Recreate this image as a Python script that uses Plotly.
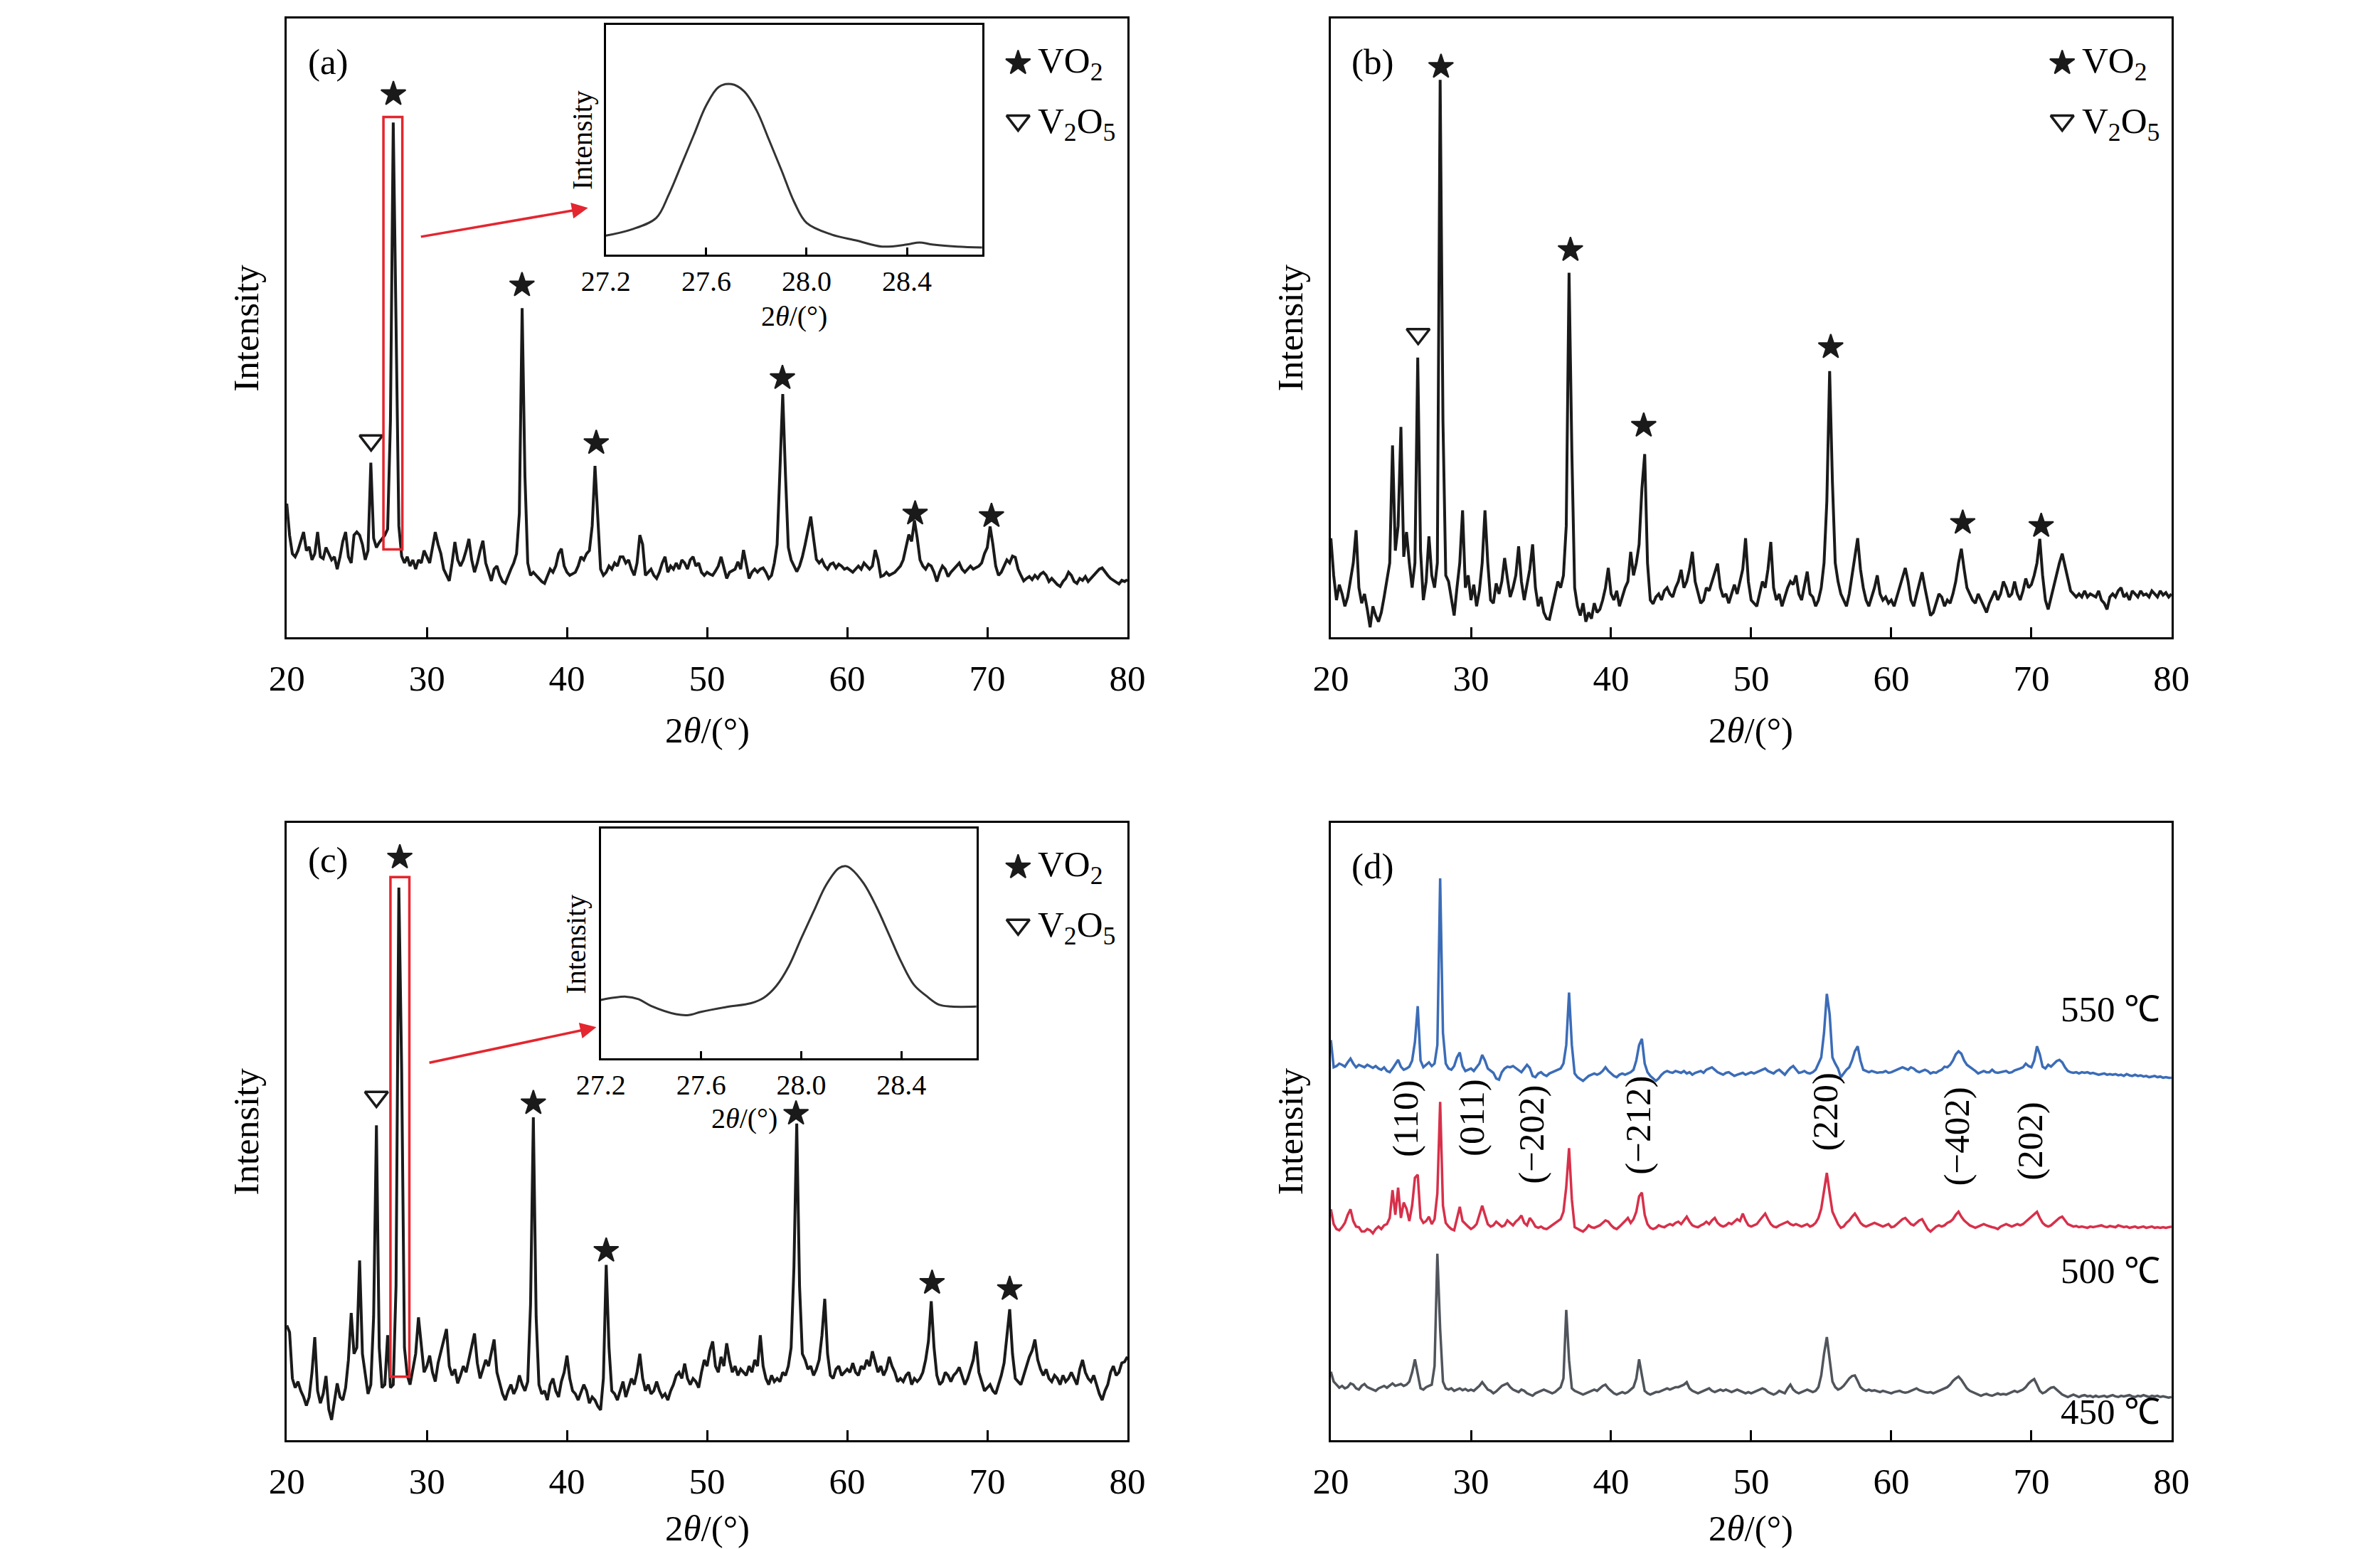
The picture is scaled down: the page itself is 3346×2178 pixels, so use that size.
import numpy as np
import plotly.graph_objects as go

SERIF = "Liberation Serif, Times New Roman, serif"

# 2theta grid, 0.2 deg steps from 20 to 80
two_theta = np.round(np.linspace(20, 80, 301), 1)

# (a) intensities (arb. units, 0 = axis bottom, 100 = axis top)
xrd_a = [
    21.6, 16.5, 13.5, 13.0, 14.0, 15.5, 17.0, 14.0, 14.6, 12.5, 13.5, 17.0, 13.0, 12.7, 14.5, 13.5, 12.5, 13.0, 11.0, 13.0, 15.5, 17.0, 13.0, 12.0, 16.5,
    17.0, 16.5, 15.0, 12.5, 14.0, 28.2, 16.0, 14.5, 15.3, 16.0, 16.5, 17.5, 35.0, 83.2, 50.0, 18.0, 13.1, 12.0, 13.0, 11.5, 12.5, 11.0, 12.5, 12.0, 14.0,
    13.0, 12.0, 14.5, 17.0, 15.0, 13.5, 11.0, 10.0, 9.1, 12.0, 15.4, 12.5, 11.5, 12.5, 14.0, 15.9, 12.5, 10.5, 12.0, 14.0, 15.6, 12.0, 10.5, 9.1, 11.0,
    11.5, 10.0, 9.0, 8.7, 10.0, 11.0, 12.0, 13.5, 20.0, 53.2, 26.0, 12.0, 10.0, 10.5, 10.0, 9.5, 9.0, 8.7, 10.0, 11.0, 10.5, 11.5, 13.5, 14.3, 11.5,
    10.5, 10.0, 10.3, 10.5, 11.5, 13.0, 12.5, 13.5, 14.0, 18.0, 27.7, 20.0, 11.0, 10.0, 10.5, 11.5, 11.0, 12.0, 11.5, 13.0, 13.0, 12.0, 12.5, 11.0, 10.0,
    12.0, 16.5, 15.0, 10.0, 10.5, 11.0, 10.0, 9.5, 10.5, 12.0, 13.0, 10.5, 11.5, 11.0, 12.0, 11.0, 12.5, 12.0, 11.0, 12.5, 13.0, 11.5, 12.0, 10.5, 10.0,
    10.5, 10.2, 10.0, 10.7, 11.5, 13.0, 11.0, 9.5, 10.5, 10.8, 11.0, 12.2, 11.0, 14.1, 11.5, 9.5, 10.5, 11.0, 10.5, 11.0, 11.2, 10.5, 9.5, 10.0, 12.0,
    15.0, 27.0, 39.3, 26.0, 14.5, 12.5, 11.5, 10.6, 11.5, 13.0, 15.0, 17.5, 19.5, 16.0, 12.6, 12.0, 12.5, 11.5, 11.0, 11.8, 12.0, 11.2, 11.8, 11.5, 11.0,
    11.2, 10.8, 10.5, 11.0, 11.5, 11.0, 12.0, 11.5, 11.0, 11.5, 14.1, 12.5, 9.8, 10.0, 10.5, 10.0, 10.3, 10.5, 11.0, 11.5, 12.5, 14.5, 16.6, 15.5, 18.9,
    16.0, 12.5, 11.5, 11.0, 11.8, 11.5, 10.5, 9.0, 10.5, 11.5, 11.0, 9.8, 10.5, 11.0, 11.5, 12.0, 11.0, 10.5, 11.0, 11.5, 11.0, 11.2, 11.5, 12.0, 13.5,
    14.5, 17.9, 15.0, 11.5, 10.0, 10.5, 11.5, 12.5, 12.0, 13.1, 12.9, 11.0, 10.0, 9.1, 9.5, 9.8, 9.3, 10.0, 9.5, 10.2, 10.5, 10.0, 9.0, 9.5, 9.0,
    8.5, 8.2, 9.0, 9.5, 10.5, 10.0, 9.0, 8.7, 9.5, 9.2, 9.8, 9.0, 9.5, 10.0, 10.5, 11.0, 11.2, 10.5, 10.0, 9.5, 9.2, 9.0, 8.6, 9.2, 9.0, 9.3,
]

# (b)
xrd_b = [
    16.0, 10.0, 6.0, 8.5, 7.0, 5.0, 6.5, 9.0, 12.0, 17.3, 8.0, 5.5, 7.0, 4.5, 1.6, 5.0, 3.5, 2.5, 4.0, 6.5, 9.0, 12.0, 31.0, 14.0, 18.0,
    34.0, 13.0, 17.0, 12.0, 8.0, 12.0, 45.2, 14.0, 6.0, 9.0, 16.3, 10.0, 8.0, 12.0, 90.1, 35.0, 10.0, 9.0, 6.0, 3.5, 8.0, 12.0, 20.5, 8.0, 10.0,
    6.0, 8.5, 5.0, 7.5, 12.0, 20.5, 12.0, 6.0, 5.5, 8.7, 7.0, 9.0, 12.8, 9.5, 6.5, 8.0, 10.0, 14.7, 9.0, 6.0, 8.5, 11.0, 15.0, 8.0, 5.0,
    6.5, 4.0, 3.0, 2.9, 5.0, 7.0, 9.0, 8.0, 10.0, 18.0, 58.9, 30.0, 8.0, 5.0, 3.5, 5.5, 2.5, 4.0, 3.0, 5.5, 4.0, 4.5, 6.0, 8.0, 11.2,
    7.0, 6.0, 7.5, 5.0, 6.5, 8.0, 9.0, 13.8, 10.0, 12.0, 15.0, 24.0, 29.6, 12.0, 6.0, 5.4, 6.5, 7.0, 6.0, 7.5, 8.0, 7.0, 6.5, 8.0, 9.0,
    10.9, 8.0, 9.0, 11.0, 13.8, 9.0, 7.0, 5.5, 6.0, 8.0, 7.5, 9.0, 10.5, 11.9, 8.0, 6.5, 7.0, 5.5, 7.0, 8.5, 7.0, 9.0, 11.0, 16.0, 9.0,
    6.0, 5.5, 5.0, 7.0, 9.0, 8.0, 11.0, 15.4, 8.0, 6.0, 7.0, 5.0, 6.5, 8.0, 9.0, 8.5, 10.0, 7.0, 6.0, 8.5, 10.6, 7.0, 6.5, 5.0, 6.0,
    8.0, 12.0, 22.0, 43.0, 25.0, 12.0, 9.0, 7.0, 6.0, 5.0, 7.0, 10.0, 13.5, 16.0, 11.0, 8.0, 6.0, 5.0, 6.5, 8.0, 10.0, 7.0, 6.0, 6.5, 5.5,
    6.0, 5.0, 6.5, 8.0, 9.5, 11.2, 9.0, 6.0, 5.0, 7.0, 9.0, 10.5, 8.0, 5.5, 3.5, 4.0, 5.5, 7.0, 6.5, 5.0, 6.0, 5.5, 7.0, 9.0, 12.0,
    14.3, 11.0, 8.0, 7.0, 6.0, 5.5, 7.0, 6.0, 5.0, 4.0, 5.5, 6.5, 7.5, 6.0, 7.0, 9.0, 8.0, 6.5, 7.0, 9.0, 7.0, 6.0, 7.5, 9.5, 8.0,
    8.5, 10.0, 12.0, 15.9, 10.0, 6.0, 4.5, 6.5, 8.0, 10.0, 12.0, 13.5, 11.5, 9.0, 7.5, 7.0, 6.5, 7.0, 6.5, 7.5, 6.5, 7.0, 6.8, 6.5, 7.5,
    6.0, 5.5, 4.5, 6.5, 7.0, 6.5, 7.5, 8.0, 6.5, 7.0, 6.0, 7.5, 7.0, 6.5, 7.5, 6.8, 7.0, 6.5, 7.5, 7.0, 6.5, 7.5, 6.8, 7.2, 6.5, 7.0,
]

# (c)
xrd_c = [
    18.6, 17.5, 10.0, 8.5, 9.5, 8.0, 7.0, 5.6, 7.0, 11.0, 16.7, 8.0, 6.0, 7.5, 10.4, 5.0, 3.3, 6.0, 9.2, 7.0, 6.5, 8.5, 13.0, 20.6, 14.0,
    15.0, 29.1, 14.0, 10.5, 7.5, 9.0, 20.0, 51.0, 15.0, 8.5, 9.0, 17.0, 8.5, 9.0, 25.0, 89.5, 60.0, 15.0, 10.5, 9.0, 11.8, 14.0, 19.9, 15.0, 11.0,
    12.0, 13.7, 11.0, 9.5, 12.5, 14.5, 16.0, 18.0, 12.0, 10.5, 11.5, 9.2, 10.5, 12.0, 11.0, 13.0, 15.0, 17.3, 12.5, 10.0, 11.5, 13.0, 12.0, 14.0, 16.3,
    11.0, 9.0, 7.5, 6.5, 8.0, 9.0, 7.5, 8.5, 10.5, 9.0, 8.0, 9.5, 22.0, 52.3, 20.0, 9.0, 7.5, 8.0, 6.5, 9.0, 10.0, 8.0, 7.0, 9.5, 11.0,
    13.7, 10.0, 8.0, 7.5, 6.5, 7.8, 9.0, 8.0, 6.0, 7.0, 6.5, 5.5, 4.9, 10.0, 28.4, 15.0, 8.0, 7.5, 6.5, 8.0, 9.5, 7.0, 8.5, 10.0, 9.0,
    11.0, 14.0, 10.0, 8.0, 9.0, 7.5, 8.0, 9.5, 8.0, 7.0, 7.5, 6.5, 8.0, 9.0, 10.5, 11.0, 10.0, 12.4, 10.0, 9.0, 10.0, 9.5, 8.5, 11.0, 13.0,
    12.0, 14.5, 16.0, 12.0, 11.0, 13.5, 12.0, 15.7, 13.0, 11.0, 12.0, 10.5, 11.5, 11.0, 10.5, 12.0, 11.0, 13.0, 12.0, 17.0, 12.0, 10.0, 9.0, 10.5, 9.5,
    10.0, 9.5, 11.0, 10.5, 12.0, 15.0, 28.0, 51.3, 25.0, 14.0, 13.0, 11.5, 12.0, 10.5, 11.5, 13.0, 17.0, 22.9, 14.0, 10.5, 10.0, 11.5, 12.0, 10.5, 11.0,
    11.5, 11.0, 12.5, 11.0, 10.5, 12.0, 11.5, 13.0, 12.0, 14.4, 12.5, 11.0, 12.0, 10.5, 11.5, 13.5, 12.0, 11.0, 9.5, 10.0, 9.5, 10.5, 11.0, 9.0, 10.0,
    9.5, 10.0, 11.0, 13.0, 16.0, 22.5, 15.0, 10.5, 9.0, 9.5, 11.0, 10.5, 9.5, 10.5, 11.0, 11.8, 10.5, 9.0, 10.0, 11.5, 13.0, 16.0, 11.0, 9.5, 8.0,
    8.5, 9.0, 8.0, 7.5, 9.0, 10.5, 12.5, 17.0, 21.2, 14.0, 10.0, 9.5, 9.0, 10.5, 12.0, 13.5, 14.5, 16.3, 13.0, 11.5, 10.5, 11.5, 10.0, 9.5, 10.5,
    10.0, 9.0, 10.5, 9.5, 10.0, 11.0, 10.0, 9.0, 11.5, 13.0, 11.0, 10.0, 9.5, 10.5, 9.0, 7.5, 6.5, 8.0, 9.0, 11.0, 12.0, 10.5, 11.0, 12.5, 12.7, 13.5,
]

# (d) stacked patterns, offsets already in the values
xrd_550 = [
    64.8, 60.4, 60.6, 61.0, 60.8, 60.5, 61.2, 61.8, 61.0, 60.4, 60.8, 60.6, 60.4, 60.8, 60.5, 60.3, 60.6, 60.2, 60.0, 60.4, 59.8, 59.6, 60.2, 61.0, 61.6,
    60.5, 60.0, 60.2, 60.5, 61.5, 64.5, 70.3, 61.5, 60.4, 60.8, 61.2, 60.6, 61.0, 64.0, 91.0, 66.0, 61.0, 60.2, 60.0, 60.6, 62.0, 62.8, 60.6, 59.8, 60.0,
    60.2, 59.8, 60.4, 61.0, 62.4, 61.5, 60.2, 59.8, 59.5, 58.6, 58.4, 59.6, 60.2, 60.5, 60.4, 60.6, 60.3, 60.0, 59.6, 60.2, 60.8, 60.3, 59.0, 58.8, 59.4,
    59.6, 59.2, 59.0, 59.4, 59.6, 59.8, 60.0, 60.2, 61.0, 64.0, 72.5, 64.0, 59.4, 58.8, 58.5, 58.2, 58.6, 59.0, 59.2, 59.4, 59.2, 59.4, 59.8, 60.4, 59.8,
    59.4, 59.0, 58.8, 59.2, 59.4, 59.2, 59.4, 59.6, 60.0, 61.5, 64.0, 65.0, 61.0, 59.6, 59.0, 58.6, 58.2, 58.6, 59.2, 59.6, 59.8, 59.6, 59.5, 59.8, 59.6,
    59.5, 59.8, 59.4, 59.6, 59.2, 59.5, 59.6, 59.8, 59.5, 60.0, 60.2, 60.4, 60.0, 59.6, 59.4, 59.2, 59.5, 59.6, 59.3, 59.0, 59.2, 59.4, 59.5, 59.2, 59.4,
    59.6, 59.4, 59.6, 59.8, 60.0, 60.2, 59.8, 59.6, 59.4, 59.8, 60.0, 59.6, 59.2, 59.8, 60.3, 60.6, 60.0, 59.5, 59.6, 59.8, 59.5, 59.4, 59.6, 60.0, 61.0,
    62.0, 66.0, 72.3, 69.0, 62.0, 61.0, 60.2, 58.8, 59.4, 60.0, 60.4, 61.5, 63.0, 63.8, 61.5, 60.0, 59.8, 59.6, 59.8, 59.6, 59.5, 59.6, 59.6, 59.8, 59.5,
    59.6, 59.8, 60.0, 60.2, 60.4, 60.2, 60.0, 60.4, 60.2, 59.8, 59.6, 59.8, 60.0, 59.8, 59.4, 59.6, 59.5, 59.8, 60.0, 60.5, 60.4, 60.8, 61.5, 62.5, 63.0,
    62.6, 61.5, 60.8, 60.5, 60.2, 59.8, 59.4, 59.6, 59.8, 59.6, 59.6, 60.0, 59.6, 59.5, 59.6, 59.6, 59.8, 59.5, 59.6, 59.9, 60.0, 60.2, 60.4, 61.0, 60.6,
    60.4, 61.5, 63.8, 62.5, 60.5, 60.2, 60.8, 60.5, 61.0, 61.4, 61.6, 61.2, 60.4, 59.8, 59.6, 59.5, 59.6, 59.4, 59.6, 59.5, 59.6, 59.4, 59.5, 59.4, 59.2,
    59.3, 59.4, 59.2, 59.3, 59.2, 59.3, 59.1, 59.2, 59.0, 59.3, 59.1, 59.0, 59.2, 59.0, 59.1, 58.9, 59.0, 58.8, 58.9, 59.0, 58.8, 58.9, 58.7, 58.8, 58.7, 58.7,
]

xrd_500 = [
    37.4, 35.0, 34.2, 34.0, 34.5, 35.2, 36.5, 37.4, 35.5, 34.6, 34.5, 33.8, 33.8, 34.2, 34.0, 33.5, 34.2, 34.6, 34.2, 34.8, 35.0, 36.0, 40.5, 36.5, 40.9,
    36.0, 38.5, 37.5, 35.5, 38.0, 42.5, 43.0, 36.0, 35.2, 35.5, 36.2, 35.0, 35.8, 40.0, 54.8, 38.0, 35.2, 34.6, 34.2, 34.0, 35.8, 37.8, 35.5, 35.0, 34.6,
    34.2, 34.5, 35.0, 36.5, 38.0, 36.5, 35.0, 34.6, 34.8, 35.4, 35.0, 34.6, 34.8, 35.6, 35.2, 34.8, 35.4, 35.8, 36.4, 35.2, 34.8, 36.0, 35.4, 34.6, 34.4,
    34.6, 34.3, 34.2, 34.5, 34.8, 35.2, 35.5, 35.8, 37.0, 41.0, 47.3, 39.0, 34.5, 34.2, 34.0, 33.8, 34.2, 34.8, 34.5, 34.4, 34.6, 34.8, 35.2, 35.6, 35.4,
    34.8, 34.4, 34.2, 34.6, 35.0, 35.5, 36.0, 35.2, 35.8, 37.0, 39.5, 40.1, 36.5, 35.0, 34.4, 34.2, 34.4, 34.8, 34.6, 34.5, 34.8, 35.0, 34.8, 35.2, 35.4,
    35.0, 35.6, 36.2, 35.4, 34.8, 34.6, 34.5, 34.8, 35.0, 35.4, 35.0, 35.6, 36.0, 35.2, 34.8, 34.6, 34.8, 35.2, 35.0, 35.4, 35.8, 35.5, 36.7, 35.6, 34.8,
    34.6, 34.8, 35.0, 35.6, 36.2, 36.7, 35.8, 35.0, 34.6, 34.5, 34.8, 35.0, 35.2, 35.4, 35.0, 34.8, 35.0, 34.8, 34.6, 34.8, 35.0, 34.6, 34.8, 35.2, 36.0,
    37.5, 40.5, 43.3, 40.0, 37.0, 36.0, 35.0, 34.4, 34.6, 35.2, 35.6, 36.2, 36.7, 36.0, 35.2, 34.8, 34.6, 34.8, 35.0, 35.2, 35.0, 34.8, 34.6, 34.8, 35.0,
    34.5, 34.6, 35.0, 35.4, 35.8, 36.0, 35.5, 35.0, 34.8, 35.2, 35.6, 35.8, 35.0, 34.2, 33.8, 34.2, 34.6, 34.8, 34.6, 34.8, 35.2, 35.4, 35.8, 36.5, 37.0,
    36.2, 35.6, 35.2, 34.8, 34.6, 34.4, 34.6, 34.8, 35.0, 34.8, 34.6, 34.5, 34.4, 34.2, 34.6, 34.8, 35.0, 34.8, 34.6, 34.8, 35.0, 34.8, 35.0, 35.4, 35.8,
    36.2, 36.6, 37.0, 36.0, 35.2, 34.8, 34.6, 34.8, 35.2, 35.6, 36.0, 36.2, 35.6, 35.0, 34.8, 34.6, 34.7, 34.5, 34.6, 34.5, 34.4, 34.6, 34.5, 34.6, 34.7,
    34.8, 34.6, 34.5, 34.7, 34.6, 34.5, 34.8, 34.7, 34.5, 34.6, 34.4, 34.5, 34.6, 34.4, 34.5, 34.6, 34.4, 34.5, 34.6, 34.4, 34.5, 34.4, 34.5, 34.4, 34.5, 34.6,
]

xrd_450 = [
    11.1, 9.5, 9.0, 8.5, 8.8, 8.4, 8.6, 9.2, 9.0, 8.4, 8.2, 8.8, 9.1, 8.6, 8.4, 8.2, 8.0, 8.4, 8.6, 8.8, 8.5, 8.9, 9.2, 8.8, 9.0,
    9.1, 8.8, 9.0, 9.5, 11.0, 13.1, 10.5, 8.4, 8.2, 8.6, 8.8, 9.0, 12.0, 30.2, 18.0, 9.5, 8.4, 8.2, 8.4, 8.0, 8.2, 8.4, 8.1, 8.3, 8.0,
    8.2, 8.0, 8.4, 8.8, 9.4, 8.8, 8.2, 8.0, 7.6, 7.9, 8.4, 8.8, 9.0, 9.2, 8.6, 8.2, 8.0, 7.8, 8.2, 8.0, 7.6, 7.4, 7.2, 7.6, 7.8,
    8.0, 8.2, 8.0, 7.8, 7.6, 7.8, 8.2, 8.6, 10.0, 21.1, 13.0, 8.4, 8.0, 7.8, 7.6, 7.4, 7.6, 7.8, 8.0, 8.2, 8.0, 8.4, 8.8, 9.0, 8.4,
    8.0, 7.6, 7.4, 7.6, 7.8, 7.6, 7.8, 8.2, 8.6, 10.0, 13.1, 10.5, 8.0, 7.6, 7.4, 7.6, 7.8, 7.8, 8.0, 8.2, 8.4, 8.2, 8.4, 8.6, 8.6,
    8.8, 9.0, 9.4, 8.4, 8.0, 7.8, 7.6, 7.8, 8.0, 8.2, 8.4, 8.0, 7.8, 8.0, 8.2, 8.0, 8.2, 8.0, 7.8, 8.0, 8.2, 8.0, 7.8, 7.6, 7.8,
    7.6, 7.8, 8.0, 8.2, 8.4, 8.2, 7.8, 7.6, 7.4, 7.6, 8.0, 7.8, 7.6, 8.4, 9.0, 8.2, 7.8, 7.6, 7.8, 8.0, 8.2, 8.0, 7.8, 8.0, 8.6,
    10.5, 14.0, 16.7, 13.0, 9.5, 8.6, 8.2, 8.4, 8.8, 9.4, 10.0, 10.4, 10.5, 9.6, 8.6, 8.2, 8.0, 8.2, 8.0, 8.1, 8.0, 7.8, 8.0, 7.9, 7.8,
    7.6, 7.8, 7.9, 8.0, 7.8, 7.7, 7.8, 8.0, 8.2, 8.4, 8.1, 7.9, 7.8, 7.7, 7.8, 7.6, 7.8, 8.0, 8.2, 8.4, 8.6, 9.0, 9.6, 10.0, 10.3,
    9.8, 9.0, 8.4, 8.0, 7.8, 7.6, 7.4, 7.2, 7.4, 7.5, 7.3, 7.2, 7.4, 7.6, 7.4, 7.5, 7.4, 7.6, 7.8, 8.0, 7.8, 8.0, 8.2, 8.6, 9.2,
    9.6, 9.9, 9.0, 8.0, 7.6, 7.8, 8.2, 8.5, 8.6, 8.2, 7.8, 7.4, 7.2, 7.0, 7.2, 7.4, 7.2, 7.0, 7.2, 7.3, 7.1, 7.2, 7.0, 7.2, 7.0,
    7.1, 7.2, 7.0, 7.2, 7.3, 7.1, 7.0, 7.2, 7.1, 7.2, 7.3, 7.1, 7.0, 7.2, 7.1, 7.3, 7.2, 7.0, 7.2, 7.1, 7.2, 7.0, 7.1, 7.0, 6.9, 7.0,
]

for name, ys in [("a", xrd_a), ("b", xrd_b), ("c", xrd_c),
                 ("550", xrd_550), ("500", xrd_500), ("450", xrd_450)]:
    assert len(ys) == len(two_theta), (name, len(ys))

# insets: zoom of the strongest peak
inset_a_x = [27.2, 27.3, 27.4, 27.45, 27.5, 27.55, 27.6, 27.65, 27.7, 27.75, 27.8, 27.85,
             27.9, 27.95, 28.0, 28.1, 28.2, 28.3, 28.4, 28.45, 28.5, 28.6, 28.7]
inset_a_y = [8.3, 10.9, 15.9, 26.0, 38.9, 52.0, 65.0, 73.0, 74.2, 71.2, 62.9, 50.0,
             36.7, 23.0, 13.8, 8.7, 6.1, 3.5, 4.4, 5.3, 4.4, 3.5, 3.1]
inset_c_x = [27.2, 27.3, 27.35, 27.4, 27.5, 27.55, 27.6, 27.7, 27.8, 27.85, 27.9, 27.95, 28.0,
             28.05, 28.1, 28.15, 28.18, 28.2, 28.25, 28.3, 28.35, 28.4, 28.45, 28.5, 28.55, 28.6, 28.7]
inset_c_y = [25.4, 26.8, 25.7, 22.8, 19.2, 18.8, 20.2, 22.3, 24.0, 26.3, 31.4, 40.0, 52.2,
             64.0, 75.5, 82.7, 83.6, 82.4, 76.0, 66.0, 54.0, 41.8, 32.0, 27.1, 23.3, 22.5, 22.5]
inset_ticks = [27.2, 27.6, 28.0, 28.4]

# phase marks above the peaks
vo2_a_x = [27.61, 36.79, 42.09, 55.38, 64.85, 70.3]
vo2_a_y = [87.8, 56.9, 31.4, 41.9, 20.0, 19.6]
v2o5_a = [26.02, 31.8]
vo2_b_x = [27.86, 37.1, 42.33, 55.68, 65.1, 70.7]
vo2_b_y = [92.2, 62.6, 34.2, 46.9, 18.5, 18.0]
v2o5_b = [26.23, 49.0]
vo2_c_x = [28.07, 37.6, 42.8, 56.35, 66.06, 71.6]
vo2_c_y = [94.4, 54.6, 30.7, 52.9, 25.5, 24.5]
v2o5_c = [26.4, 55.6]

hkl_text = ["(110)", "(011)", "(\u2212202)", "(\u2212212)", "(220)", "(\u2212402)", "(202)"]
hkl_x = [25.29, 30.05, 34.34, 41.95, 55.3, 64.65, 69.9]
hkl_y = [52.1, 52.2, 49.5, 51.0, 53.2, 49.2, 48.4]
temp_text = ["550 \u2103", "500 \u2103", "450 \u2103"]
temp_y = [69.8, 27.4, 4.6]

BLACK = "#1a1a1a"
RED = "#e3262f"

fig = go.Figure()


def spectrum(x, y, xa, ya, color=BLACK, width=4):
    fig.add_trace(go.Scatter(x=x, y=y, mode="lines", xaxis=xa, yaxis=ya,
                             line=dict(color=color, width=width), showlegend=False))


def marks(xs, ys, xa, ya, symbol, size, lw=3):
    fig.add_trace(go.Scatter(x=xs, y=ys, mode="markers", xaxis=xa, yaxis=ya, cliponaxis=False,
                             marker=dict(symbol=symbol, size=size, color=BLACK,
                                         line=dict(color=BLACK, width=lw)),
                             showlegend=False))


spectrum(two_theta, xrd_a, "x", "y")
spectrum(two_theta, xrd_b, "x2", "y2")
spectrum(two_theta, xrd_c, "x3", "y3")
spectrum(two_theta, xrd_550, "x4", "y4", "#3b6cb7", 3.5)
spectrum(two_theta, xrd_500, "x4", "y4", "#d7304a", 3.5)
spectrum(two_theta, xrd_450, "x4", "y4", "#50555c", 3.5)

fig.add_trace(go.Scatter(x=inset_a_x, y=inset_a_y, mode="lines", xaxis="x5", yaxis="y5",
                         line=dict(color="#333333", width=3, shape="spline"), showlegend=False))
fig.add_trace(go.Scatter(x=inset_c_x, y=inset_c_y, mode="lines", xaxis="x6", yaxis="y6",
                         line=dict(color="#333333", width=3, shape="spline"), showlegend=False))

for xa, ya, vx, vy, tri in [("x", "y", vo2_a_x, vo2_a_y, v2o5_a),
                            ("x2", "y2", vo2_b_x, vo2_b_y, v2o5_b),
                            ("x3", "y3", vo2_c_x, vo2_c_y, v2o5_c)]:
    marks(vx, vy, xa, ya, "star", 26, 2)
    marks([tri[0]], [tri[1]], xa, ya, "triangle-down-open", 28, 3.5)
    # legend
    marks([72.2], [92.8], xa, ya, "star", 26, 2)
    marks([72.2], [83.5], xa, ya, "triangle-down-open", 28, 3.5)

main_x = dict(range=[20, 80], tickvals=[20, 30, 40, 50, 60, 70, 80], ticks="inside", ticklen=14,
              tickwidth=3, tickcolor="black", showline=True, linewidth=3, linecolor="black",
              mirror=True, showgrid=False, zeroline=False, ticklabelstandoff=11, automargin=False,
              tickfont=dict(family=SERIF, size=51, color="black"))
main_y = dict(range=[0, 100], showticklabels=False, ticks="", showline=True, linewidth=3,
              linecolor="black", mirror=True, showgrid=False, zeroline=False, automargin=False)
inset_x = dict(range=[27.2, 28.7], tickvals=inset_ticks, ticktext=["27.2", "27.6", "28.0", "28.4"],
               ticks="inside", ticklen=10, tickwidth=2.5, tickcolor="black", showline=True,
               linewidth=2.5, linecolor="black", mirror=True, showgrid=False, zeroline=False,
               ticklabelstandoff=0, automargin=False,
               tickfont=dict(family=SERIF, size=40, color="black"))
inset_y = dict(range=[0, 100], showticklabels=False, ticks="", showline=True, linewidth=2.5,
               linecolor="black", mirror=True, showgrid=False, zeroline=False, automargin=False)

# page body adds an 8 px margin, so domains are pulled up/left by 8 px
left_dom = [0.1181, 0.4713]
right_dom = [0.5568, 0.9100]
top_dom = [0.5923, 0.9917]
bot_dom = [0.0739, 0.4725]

fig.update_layout(
    template="none",
    width=3346, height=2178, margin=dict(l=0, r=0, t=0, b=0, pad=0), autosize=False,
    paper_bgcolor="white", plot_bgcolor="rgba(0,0,0,0)", showlegend=False,
    font=dict(family=SERIF, color="black"),
    xaxis=dict(main_x, domain=left_dom, anchor="y"),
    yaxis=dict(main_y, domain=top_dom, anchor="x"),
    xaxis2=dict(main_x, domain=right_dom, anchor="y2"),
    yaxis2=dict(main_y, domain=top_dom, anchor="x2"),
    xaxis3=dict(main_x, domain=left_dom, anchor="y3"),
    yaxis3=dict(main_y, domain=bot_dom, anchor="x3"),
    xaxis4=dict(main_x, domain=right_dom, anchor="y4"),
    yaxis4=dict(main_y, domain=bot_dom, anchor="x4"),
    xaxis5=dict(inset_x, domain=[0.2522, 0.4103], anchor="y5"),
    yaxis5=dict(inset_y, domain=[0.8393, 0.9876], anchor="x5"),
    xaxis6=dict(inset_x, domain=[0.2501, 0.4079], anchor="y6"),
    yaxis6=dict(inset_y, domain=[0.3205, 0.4688], anchor="x6"),
)

# red boxes around the zoomed peak
for xa, ya, x0, x1, y0, y1 in [("x", "y", 26.9, 28.25, 14.2, 84.1),
                               ("x3", "y3", 27.4, 28.75, 10.3, 91.2)]:
    fig.add_shape(type="rect", xref=xa, yref=ya, x0=x0, x1=x1, y0=y0, y1=y1,
                  line=dict(color=RED, width=3.5))

ann = []


def text(s, x, y, xref, yref, size=51, angle=0, xanchor="center", yanchor="middle"):
    ann.append(dict(text=s, x=x, y=y, xref=xref, yref=yref, showarrow=False,
                    textangle=angle, xanchor=xanchor, yanchor=yanchor,
                    font=dict(family=SERIF, size=size, color="black")))


# arrows from box to inset
for xa, ya, x0, y0, x1, y1 in [("x", "y", 29.5, 64.7, 41.5, 69.4),
                               ("x3", "y3", 30.1, 61.1, 42.1, 66.9)]:
    ann.append(dict(x=x1, y=y1, ax=x0, ay=y0, xref=xa, yref=ya, axref=xa, ayref=ya, text="",
                    showarrow=True, arrowhead=2, arrowsize=1.3, arrowwidth=3.5, arrowcolor=RED))

# axis titles
xtitle = "2<i>\u03b8</i>/(\u00b0)"
for cx, cy_x, iy_x, cy in [(0.2947, 0.5321, 0.1009, 0.7920), (0.7334, 0.5321, 0.5398, 0.7920),
                           (0.2947, 0.0170, 0.1009, 0.2732), (0.7334, 0.0170, 0.5398, 0.2732)]:
    text(xtitle, cx, cy_x, "paper", "paper")
    text("Intensity", iy_x, cy, "paper", "paper", angle=-90)

text("Intensity", 0.2421, 0.9132, "paper", "paper", size=40, angle=-90)
text(xtitle, 0.3314, 0.7994, "paper", "paper", size=40)
text("Intensity", 0.2397, 0.3941, "paper", "paper", size=40, angle=-90)
text(xtitle, 0.3105, 0.2815, "paper", "paper", size=40)

# panel letters and phase legend
for lab, xa, ya, ly in [("(a)", "x", "y", 93.0), ("(b)", "x2", "y2", 93.0),
                        ("(c)", "x3", "y3", 94.0), ("(d)", "x4", "y4", 93.0)]:
    text(lab, 22.95, ly, xa, ya)
for xa, ya in [("x", "y"), ("x2", "y2"), ("x3", "y3")]:
    text("VO<sub>2</sub>", 73.5, 92.8, xa, ya, xanchor="left")
    text("V<sub>2</sub>O<sub>5</sub>", 73.5, 83.0, xa, ya, xanchor="left")

# (d) crystal planes and temperatures
for s, hx, hy in zip(hkl_text, hkl_x, hkl_y):
    text(s, hx, hy, "x4", "y4", angle=-90)
for s, ty in zip(temp_text, temp_y):
    text(s, 79.3, ty, "x4", "y4", xanchor="right")

fig.update_layout(annotations=ann)
fig.write_html("out.html")
